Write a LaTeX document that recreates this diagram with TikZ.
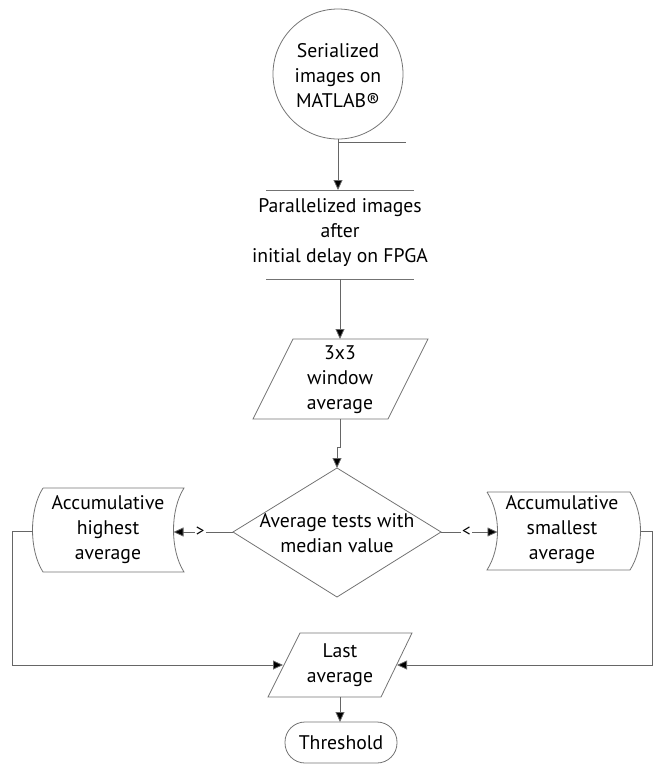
\documentclass[tikz,border=0pt]{standalone}
\usepackage{fontspec}
\setmainfont{PT Sans}
\usetikzlibrary{arrows.meta}
\tikzset{
  shapeline/.style={draw=black!55, line width=0.8pt},
  conn/.style={draw=black!60, line width=0.8pt, -{Triangle[length=10pt,width=9pt,fill=black]}},
  plain/.style={draw=black!60, line width=0.8pt},
  txt/.style={align=center, inner sep=0pt, font=\fontsize{19.7}{25}\selectfont},
  sign/.style={fill=white, inner sep=1pt, font=\fontsize{17}{17}\selectfont}
}
\begin{document}
\begin{tikzpicture}[x=1pt,y=-1pt]
\useasboundingbox (0,0) rectangle (654,764);
% shapes
\draw[shapeline] (338,74) circle (65);
\draw[shapeline] (266,190) -- (414,190);
\draw[shapeline] (266,279) -- (414,279);
\draw[shapeline] (293,339) -- (428,339) -- (388,419) -- (253,419) -- cycle;
\draw[shapeline] (337,468) -- (441,532) -- (337,597) -- (233,532) -- cycle;
\draw[shapeline] (43,488) -- (184,488) .. controls (170,510) and (170,550) .. (184,572) -- (43,572) .. controls (29,550) and (29,510) .. (43,488);
\draw[shapeline] (487,492) -- (630,492) .. controls (644,514) and (644,548) .. (630,570) -- (487,570) .. controls (501,548) and (501,514) .. (487,492);
\draw[shapeline] (300,633) -- (412,633) -- (381,697) -- (268,697) -- cycle;
\draw[shapeline, rounded corners=20] (285,722) rectangle (397,763);
% texts
\node[txt] (serial) at (338,76) {Serialized\\images on\\MATLAB®};
\node[txt] (paral) at (340,233) {Parallelized images\\after\\initial delay on FPGA};
\node[txt] (win) at (340,380) {3x3\\window\\average};
\node[txt] (test) at (337,533) {Average tests with\\median value};
\node[txt] (high) at (108,530) {Accumulative\\highest\\average};
\node[txt] (small) at (562,530) {Accumulative\\smallest\\average};
\node[txt] (last) at (340,665) {Last\\average};
\node[txt] (thr) at (341,743) {Threshold};
% connector anchor points
\coordinate (cS) at (338,139);
\coordinate (cStub) at (406,142);
\coordinate (pT) at (338,190);
\coordinate (pB) at (340,279);
\coordinate (wT) at (340,339);
\coordinate (wB) at (340,419);
\coordinate (j1) at (340,447);
\coordinate (j2) at (337,447);
\coordinate (dT) at (337,468);
\coordinate (dL) at (233,532);
\coordinate (dR) at (441,532);
\coordinate (hR) at (173.5,532);
\coordinate (hL) at (32.5,531);
\coordinate (sL) at (497.5,532);
\coordinate (sR) at (640.5,531);
\coordinate (lL) at (283,665);
\coordinate (lR) at (397,665);
\coordinate (lB) at (340,697);
\coordinate (tT) at (340,722);
% connectors
\draw[plain] (cS) |- (cStub);
\draw[conn] (cS) -- (pT);
\draw[conn] (pB) -- (wT);
\draw[conn] (wB) -- (j1) -- (j2) -- (dT);
\draw[conn] (dL) -- node[sign, pos=0.55] (gt) {>} (hR);
\draw[conn] (dR) -- node[sign, pos=0.45] (lt) {<} (sL);
\draw[conn] (hL) -- (12,531) -- (12,665) -- (lL);
\draw[conn] (sR) -- (652.5,531) -- (652.5,665) -- (lR);
\draw[conn] (lB) -- (tT);
\end{tikzpicture}
\end{document}
